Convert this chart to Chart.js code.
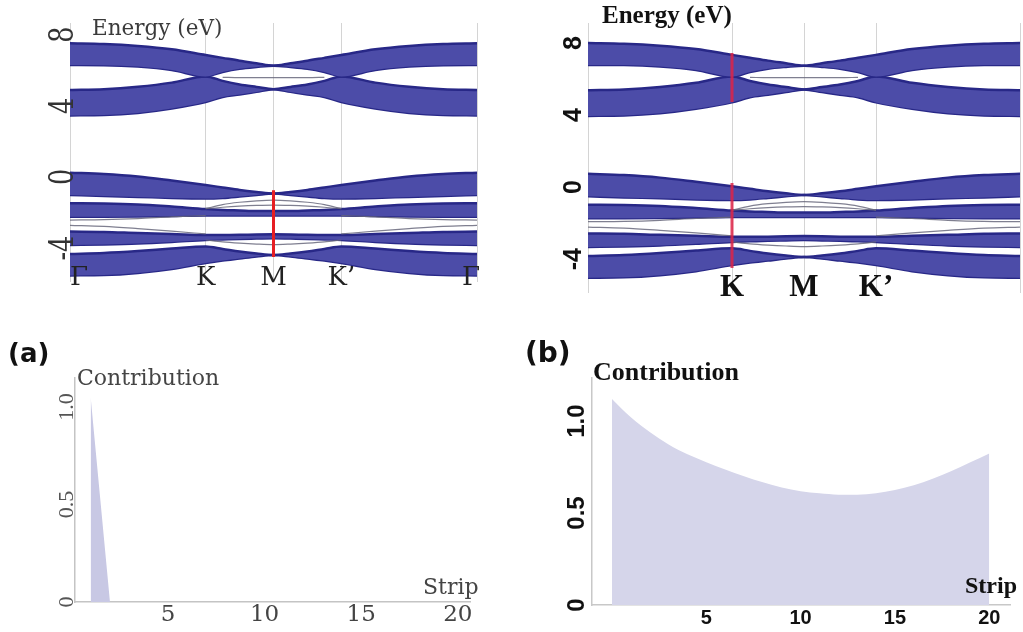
<!DOCTYPE html>
<html>
<head>
<meta charset="utf-8">
<script src="https://cdn.jsdelivr.net/npm/chart.js@4.4.0/dist/chart.umd.min.js"></script>
<style>
  body { margin: 0; background: #fff; }
  #page { position: relative; width: 1023px; height: 632px; overflow: hidden; background: #fff; }
  canvas { position: absolute; }
  .lbl { position: absolute; white-space: nowrap; line-height: 1; }
</style>
</head>
<body>
<div id="page">
  <canvas id="bandLeft" width="500" height="300" style="left:0;top:0"></canvas>
  <canvas id="bandRight" width="503" height="310" style="left:520px;top:0"></canvas>
  <canvas id="contribLeft" width="510" height="332" style="left:0;top:300px"></canvas>
  <canvas id="contribRight" width="513" height="332" style="left:510px;top:300px"></canvas>

  <div class="lbl" style="left:92px;top:15px;font:21.5px 'DejaVu Serif';color:#3a3a3a">Energy (eV)</div>
  <div class="lbl" style="left:602px;top:1px;font:bold 25px 'Liberation Serif';color:#111">Energy (eV)</div>
  <div class="lbl" style="left:8px;top:338px;font:bold 26px 'DejaVu Sans';color:#111">(a)</div>
  <div class="lbl" style="left:525px;top:336px;font:bold 28px 'DejaVu Sans';color:#111">(b)</div>
  <div class="lbl" style="left:77px;top:365px;font:22px 'DejaVu Serif';color:#444">Contribution</div>
  <div class="lbl" style="left:593px;top:357px;font:bold 26px 'Liberation Serif';color:#111">Contribution</div>
  <div class="lbl" style="left:423px;top:574px;font:22px 'DejaVu Serif';color:#444">Strip</div>
  <div class="lbl" style="left:965px;top:572px;font:bold 24px 'Liberation Serif';color:#111">Strip</div>
</div>

<script>
// k path: Γ=0, K=2, M=3, K'=4, Γ=6
const kPath = [0, 0.5, 1, 1.5, 2, 2.25, 2.5, 2.75, 3, 3.25, 3.5, 3.75, 4, 4.5, 5, 5.5, 6];
const kTicks = [0, 2, 3, 4, 6];
const kLabelsLeft = ["Γ", "K", "M", "K’", "Γ"];
const kLabelsRight = ["", "K", "M", "K’", ""];
const energyTicks = [-4, 0, 4, 8];
const energyLabels = ["-4", "0", "4", "8"];

// ribbon edges (eV), read along the path
const band1Upper = [7.51, 7.47, 7.36, 7.17, 6.85, 6.69, 6.53, 6.39, 6.25, 6.39, 6.53, 6.69, 6.85, 7.17, 7.36, 7.47, 7.51];
const band1Lower = [6.29, 6.28, 6.20, 6.01, 5.65, 5.90, 6.08, 6.18, 6.25, 6.18, 6.08, 5.90, 5.65, 6.01, 6.20, 6.28, 6.29];
const band2Upper = [4.89, 4.93, 5.07, 5.30, 5.65, 5.40, 5.20, 5.06, 4.93, 5.06, 5.20, 5.40, 5.65, 5.30, 5.07, 4.93, 4.89];
const band2Lower = [3.46, 3.48, 3.60, 3.85, 4.21, 4.49, 4.63, 4.78, 4.93, 4.78, 4.63, 4.49, 4.21, 3.85, 3.60, 3.48, 3.46];
const band3Upper = [0.24, 0.17, 0.03, -0.20, -0.45, -0.59, -0.73, -0.84, -0.93, -0.84, -0.73, -0.59, -0.45, -0.20, 0.03, 0.17, 0.24];
const band3Lower = [-1.01, -1.07, -1.12, -1.18, -1.21, -1.18, -1.10, -1.01, -0.93, -1.01, -1.10, -1.18, -1.21, -1.18, -1.12, -1.07, -1.01];
const band4Upper = [-1.48, -1.49, -1.54, -1.66, -1.80, -1.85, -1.88, -1.91, -1.91, -1.91, -1.88, -1.85, -1.80, -1.66, -1.54, -1.49, -1.48];
const band4Lower = [-2.23, -2.23, -2.22, -2.19, -2.16, -2.16, -2.16, -2.16, -2.16, -2.16, -2.16, -2.16, -2.16, -2.19, -2.22, -2.23, -2.23];
const band5Upper = [-3.07, -3.09, -3.15, -3.20, -3.26, -3.26, -3.25, -3.23, -3.22, -3.23, -3.25, -3.26, -3.26, -3.20, -3.15, -3.09, -3.07];
const band5Lower = [-3.82, -3.79, -3.74, -3.65, -3.54, -3.51, -3.48, -3.46, -3.44, -3.46, -3.48, -3.51, -3.54, -3.65, -3.74, -3.79, -3.82];
const band6Upper = [-4.33, -4.27, -4.16, -4.02, -3.90, -4.04, -4.19, -4.30, -4.38, -4.30, -4.19, -4.04, -3.90, -4.02, -4.16, -4.27, -4.33];
const band6Lower = [-5.53, -5.51, -5.39, -5.17, -4.83, -4.69, -4.58, -4.47, -4.38, -4.47, -4.58, -4.69, -4.83, -5.17, -5.39, -5.51, -5.53];

// thin single lines between the ribbons
const thinTop = [null, null, null, null, null, 5.60, 5.58, 5.58, 5.58, 5.58, 5.58, 5.60, null, null, null, null, null];
const lensA = [null, null, null, null, -1.78, -1.55, -1.42, -1.34, -1.30, -1.34, -1.42, -1.55, -1.78, null, null, null, null];
const lensB = [null, null, null, null, -1.78, -1.70, -1.64, -1.60, -1.58, -1.60, -1.64, -1.70, -1.78, null, null, null, null];
const lensC = [-2.42, -2.40, -2.34, -2.24, -2.17, null, null, null, null, null, null, null, -2.17, -2.24, -2.34, -2.40, -2.42];
const lensD = [-2.72, -2.78, -2.90, -3.04, -3.20, null, null, null, null, null, null, null, -3.20, -3.04, -2.90, -2.78, -2.72];
const lensE = [null, null, null, null, -3.54, -3.65, -3.72, -3.77, -3.80, -3.77, -3.72, -3.65, -3.54, null, null, null, null];

// red markers
const redLeftK = [3, 3];
const redLeftE = [-0.75, -4.5];
const redRightK = [2, 2];
const redRightTopE = [6.95, 4.23];
const redRightLowE = [-0.27, -4.99];

// contribution per strip
const stripsA = [1, 2, 3, 4, 5, 6, 7, 8, 9, 10, 11, 12, 13, 14, 15, 16, 17, 18, 19, 20];
const contribA = [1.05, 0, 0, 0, 0, 0, 0, 0, 0, 0, 0, 0, 0, 0, 0, 0, 0, 0, 0, 0];
const stripsB = [0, 1, 2, 3, 4, 5, 6, 7, 8, 9, 10, 11, 12, 13, 14, 15, 16, 17, 18, 19, 20];
const contribB = [1.12, 1.02, 0.94, 0.872, 0.819, 0.776, 0.737, 0.700, 0.667, 0.639, 0.619, 0.607, 0.600, 0.600, 0.607, 0.625, 0.651, 0.686, 0.729, 0.776, 0.824];
const stripTicks = [5, 10, 15, 20];
const contribTicks = [0, 0.5, 1.0];
const contribLabels = ["0", "0.5", "1.0"];

const ribbons = [
  [band1Upper, band1Lower], [band2Upper, band2Lower], [band3Upper, band3Lower],
  [band4Upper, band4Lower], [band5Upper, band5Lower], [band6Upper, band6Lower],
];
const thinLines = [thinTop, lensA, lensB, lensC, lensD, lensE];

function pts(xs, ys) {
  return xs.map((x, i) => ({ x: x, y: ys[i] }));
}

// draws tick labels where the scales put them
function tickTextPlugin(cfg) {
  return {
    id: "tickText",
    afterDraw(chart) {
      const ctx = chart.ctx;
      const area = chart.chartArea;
      ctx.save();
      if (cfg.y) {
        const y = cfg.y;
        const scale = chart.scales.y;
        ctx.font = y.font;
        ctx.fillStyle = y.color;
        ctx.textAlign = "center";
        ctx.textBaseline = "middle";
        y.values.forEach((v, i) => {
          ctx.save();
          ctx.translate(area.left + y.dx, scale.getPixelForValue(v) + (y.shift || 0));
          ctx.rotate(-Math.PI / 2);
          ctx.scale(y.squeeze || 1, 1);
          ctx.fillText(y.labels[i], 0, 0);
          ctx.restore();
        });
      }
      if (cfg.x) {
        const x = cfg.x;
        const scale = chart.scales.x;
        ctx.font = x.font;
        ctx.fillStyle = x.color;
        ctx.textBaseline = "middle";
        x.values.forEach((v, i) => {
          let align = "center";
          if (x.alignEnds && i === 0) align = "left";
          if (x.alignEnds && i === x.values.length - 1) align = "right";
          ctx.textAlign = align;
          ctx.fillText(x.labels[i], scale.getPixelForValue(v) + (align === "right" ? 3 : 0), area.bottom + x.dy);
        });
      }
      ctx.restore();
    },
  };
}

function bandDatasets(redSegments) {
  const sets = [];
  // red first so it is drawn on top
  redSegments.forEach((seg) => {
    sets.push({
      data: pts(seg[0], seg[1]),
      borderColor: seg[2],
      borderWidth: 3,
      pointRadius: 0,
      fill: false,
    });
  });
  thinLines.forEach((line) => {
    sets.push({
      data: pts(kPath, line),
      borderColor: "rgba(105,105,125,0.85)",
      borderWidth: 1.2,
      pointRadius: 0,
      fill: false,
      spanGaps: false,
      cubicInterpolationMode: "monotone",
    });
  });
  ribbons.forEach((r) => {
    sets.push({
      data: pts(kPath, r[0]),
      borderColor: "rgb(40,40,135)",
      backgroundColor: "rgb(76,76,168)",
      borderWidth: 2.5,
      pointRadius: 0,
      fill: "+1",
      cubicInterpolationMode: "monotone",
    });
    sets.push({
      data: pts(kPath, r[1]),
      borderColor: "rgb(40,40,135)",
      borderWidth: 2.5,
      pointRadius: 0,
      fill: false,
      cubicInterpolationMode: "monotone",
    });
  });
  return sets;
}

function bandChart(id, yMin, yMax, padding, redSegments, tickCfg) {
  new Chart(document.getElementById(id), {
    type: "line",
    data: { datasets: bandDatasets(redSegments) },
    options: {
      responsive: false,
      animation: false,
      devicePixelRatio: 1,
      layout: { padding: padding },
      plugins: { legend: { display: false }, tooltip: { enabled: false } },
      scales: {
        x: {
          type: "linear",
          min: 0,
          max: 6,
          afterBuildTicks: (s) => { s.ticks = kTicks.map((v) => ({ value: v })); },
          ticks: { display: false },
          grid: { color: "#d4d4d4", lineWidth: 1, drawTicks: false },
          border: { display: false },
        },
        y: {
          type: "linear",
          min: yMin,
          max: yMax,
          afterBuildTicks: (s) => { s.ticks = energyTicks.map((v) => ({ value: v })); },
          ticks: { display: false },
          grid: { display: false, drawTicks: false },
          border: { display: false },
        },
      },
    },
    plugins: [tickTextPlugin(tickCfg)],
  });
}

bandChart("bandLeft", -5.9, 8.65, { left: 70, right: 23, top: 23, bottom: 18 },
  [[redLeftK, redLeftE, "rgb(230,30,35)"]],
  {
    y: { values: energyTicks, labels: energyLabels, font: "34px 'DejaVu Serif'", color: "#333", dx: -6, squeeze: 0.75 },
    x: { values: kTicks, labels: kLabelsLeft, font: "26px 'DejaVu Serif'", color: "#222", dy: -4, alignEnds: true },
  });

bandChart("bandRight", -6.38, 8.62, { left: 68, right: 3, top: 23, bottom: 17 },
  [[redRightK, redRightTopE, "rgba(222,35,70,0.85)"], [redRightK, redRightLowE, "rgba(222,35,70,0.85)"]],
  {
    y: { values: energyTicks, labels: energyLabels, font: "bold 25px 'Liberation Sans'", color: "#111", dx: -14, shift: 9 },
    x: { values: kTicks, labels: kLabelsRight, font: "bold 31px 'Liberation Serif'", color: "#111", dy: -5 },
  });

function contribChart(id, xs, ys, xMin, xMax, yMax, padding, fillColor, smooth, axisColor, tickCfg) {
  new Chart(document.getElementById(id), {
    type: "line",
    data: {
      datasets: [{
        data: pts(xs, ys),
        backgroundColor: fillColor,
        borderWidth: 0,
        pointRadius: 0,
        fill: "origin",
        tension: 0,
        cubicInterpolationMode: smooth ? "monotone" : "default",
      }],
    },
    options: {
      responsive: false,
      animation: false,
      devicePixelRatio: 1,
      layout: { padding: padding },
      plugins: { legend: { display: false }, tooltip: { enabled: false } },
      scales: {
        x: {
          type: "linear",
          min: xMin,
          max: xMax,
          afterBuildTicks: (s) => { s.ticks = stripTicks.map((v) => ({ value: v })); },
          ticks: { display: false },
          grid: { display: false, drawTicks: false },
          border: { display: true, color: axisColor, width: 1.5 },
        },
        y: {
          type: "linear",
          min: 0,
          max: yMax,
          afterBuildTicks: (s) => { s.ticks = contribTicks.map((v) => ({ value: v })); },
          ticks: { display: false },
          grid: { display: false, drawTicks: false },
          border: { display: true, color: axisColor, width: 1.5 },
        },
      },
    },
    plugins: [tickTextPlugin(tickCfg)],
  });
}

contribChart("contribLeft", stripsA, contribA, 0.19, 20.63, 1.149,
  { left: 75, right: 40, top: 78, bottom: 30 }, "rgb(200,200,228)", false, "#c4c4c4",
  {
    y: { values: contribTicks, labels: contribLabels, font: "22px 'Liberation Serif'", color: "#555", dx: -8 },
    x: { values: stripTicks, labels: stripTicks.map(String), font: "23px 'DejaVu Serif'", color: "#444", dy: 13 },
  });

contribChart("contribRight", stripsB, contribB, -1.06, 21.1, 1.234,
  { left: 82, right: 13, top: 78, bottom: 27 }, "rgb(213,213,234)", true, "#c8c8c8",
  {
    y: { values: contribTicks, labels: contribLabels, font: "bold 24px 'Liberation Sans'", color: "#111", dx: -15 },
    x: { values: stripTicks, labels: stripTicks.map(String), font: "bold 20px 'Liberation Sans'", color: "#111", dy: 13 },
  });
</script>
</body>
</html>
